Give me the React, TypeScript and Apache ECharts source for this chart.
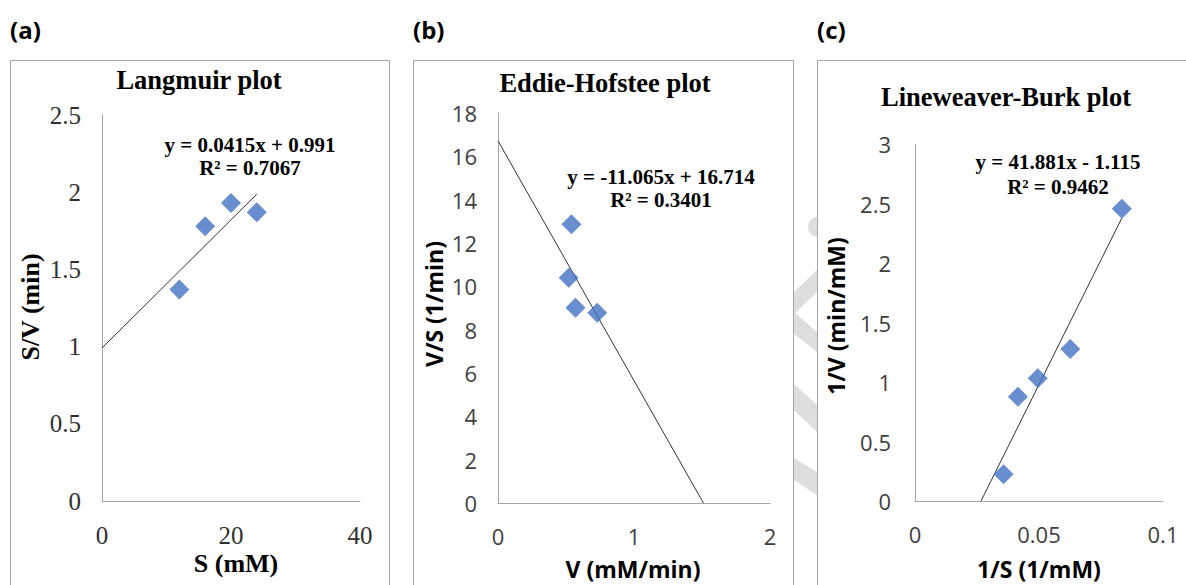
import React, { useEffect, useRef } from "react";
import * as echarts from "echarts";

// ---- Data ----
const panelLetters = ["(a)", "(b)", "(c)"];
const plotTitles = ["Langmuir plot", "Eddie-Hofstee plot", "Lineweaver-Burk plot"];
const xTitles = ["S (mM)", "V (mM/min)", "1/S (1/mM)"];
const yTitles = ["S/V (min)", "V/S (1/min)", "1/V (min/mM)"];
const equations = ["y = 0.0415x + 0.991", "y = -11.065x + 16.714", "y = 41.881x - 1.115"];
const rSquared = ["R² = 0.7067", "R² = 0.3401", "R² = 0.9462"];

// (a) Langmuir
const langmuirS = [12, 16, 20, 24];
const langmuirSV = [1.37, 1.78, 1.93, 1.87];
const langmuirTrend = [[0, 0.991], [24, 1.987]];
// (b) Eadie-Hofstee
const hofsteeV = [0.54, 0.52, 0.57, 0.73];
const hofsteeVS = [12.87, 10.4, 9.01, 8.78];
const hofsteeTrend = [[0, 16.714], [1.5105, 0]];
// (c) Lineweaver-Burk
const lbInvS = [0.0357, 0.0415, 0.0495, 0.0626, 0.0834];
const lbInvV = [0.224, 0.877, 1.032, 1.278, 2.456];
const lbTrend = [[0.02662, 0], [0.0834, 2.378]];

// axis ranges
const xRanges = [
  { min: 0, max: 40, interval: 20 },
  { min: 0, max: 2, interval: 1 },
  { min: 0, max: 0.1, interval: 0.05 },
];
const yRanges = [
  { min: 0, max: 2.5, interval: 0.5 },
  { min: 0, max: 18, interval: 2 },
  { min: 0, max: 3, interval: 0.5 },
];

const SERIF = "'Liberation Serif', 'Times New Roman', serif";
const SANS = "'Open Sans', 'Liberation Sans', sans-serif";
const MARKER = "#4472C4";
const AXIS = "#a6a6a6";
const TREND = "#333333";

export default function App() {
  const ref = useRef<HTMLDivElement>(null);

  useEffect(() => {
    if (!ref.current) return;
    const chart = echarts.init(ref.current, null, { renderer: "svg" });

    const grids = [
      { left: 102, top: 115, width: 258, height: 386 },
      { left: 498, top: 113, width: 272, height: 390 },
      { left: 915, top: 144, width: 248, height: 357 },
    ];
    const tickFonts = [SERIF, SANS, SANS];
    const tickSizes = [25, 22, 22];
    const tickColors = ["#303030", "#404040", "#404040"];
    const yMargins = [21, 21, 24];

    const xAxis = xRanges.map((r, i) => ({
      type: "value",
      gridIndex: i,
      min: r.min,
      max: r.max,
      interval: r.interval,
      axisLine: { show: true, onZero: false, lineStyle: { color: AXIS, width: 1 } },
      axisTick: { show: false },
      splitLine: { show: false },
      axisLabel: {
        margin: 22,
        fontFamily: tickFonts[i],
        fontSize: tickSizes[i],
        color: tickColors[i],
        showMaxLabel: true,
        showMinLabel: true,
      },
    }));
    const yAxis = yRanges.map((r, i) => ({
      type: "value",
      gridIndex: i,
      min: r.min,
      max: r.max,
      interval: r.interval,
      axisLine: { show: true, onZero: false, lineStyle: { color: AXIS, width: 1 } },
      axisTick: { show: false },
      splitLine: { show: false },
      axisLabel: {
        margin: yMargins[i],
        fontFamily: tickFonts[i],
        fontSize: tickSizes[i],
        color: tickColors[i],
        showMaxLabel: true,
        showMinLabel: true,
      },
    }));

    const pts = (xs: number[], ys: number[]) => xs.map((x, k) => [x, ys[k]]);
    const scatter = (i: number, data: number[][]) => ({
      type: "scatter",
      xAxisIndex: i,
      yAxisIndex: i,
      symbol: "diamond",
      symbolSize: 20,
      itemStyle: { color: MARKER },
      data,
      z: 3,
    });
    const trend = (i: number, data: number[][]) => ({
      type: "line",
      xAxisIndex: i,
      yAxisIndex: i,
      data,
      symbol: "none",
      lineStyle: { color: TREND, width: 1 },
      z: 2,
    });

    // watermark strokes in the gap between panels (b) and (c)
    const wmFill = "#dedede";
    const watermark: any[] = [
      { type: "circle", shape: { cx: 818, cy: 227, r: 10 }, style: { fill: wmFill }, z: -20 },
      { type: "polygon", shape: { points: [[817, 270], [817, 292], [794, 314], [794, 292]] }, style: { fill: wmFill }, z: -20 },
      { type: "polygon", shape: { points: [[794, 312], [817, 332], [817, 352], [794, 334]] }, style: { fill: wmFill }, z: -20 },
      { type: "polygon", shape: { points: [[794, 384], [817, 405], [817, 432], [794, 410]] }, style: { fill: wmFill }, z: -20 },
      { type: "polygon", shape: { points: [[794, 458], [817, 472], [817, 495], [794, 480]] }, style: { fill: wmFill }, z: -20 },
    ];

    const panelBoxes = [
      { x: 10.5, w: 379 },
      { x: 413.5, w: 380 },
      { x: 817.5, w: 400 },
    ];
    const boxes = panelBoxes.map((b) => ({
      type: "rect",
      shape: { x: b.x, y: 60.5, width: b.w, height: 600 },
      style: { fill: "#ffffff", stroke: AXIS, lineWidth: 1 },
      z: -10,
    }));

    const letterPos = [10, 413, 817];
    const letters = panelLetters.map((t, i) => ({
      type: "text",
      x: letterPos[i],
      y: 29,
      style: { text: t, font: `bold 24px ${SANS}`, fill: "#000", align: "left", verticalAlign: "middle" },
      z: 5,
    }));

    const titlePos = [[199, 80], [605, 83], [1006, 97]];
    const titles = plotTitles.map((t, i) => ({
      type: "text",
      x: titlePos[i][0],
      y: titlePos[i][1],
      style: { text: t, font: `bold 26.5px ${SERIF}`, fill: "#000", align: "center", verticalAlign: "middle" },
      z: 5,
    }));

    const eqPos = [[250, 145, 168], [661, 177, 200], [1058, 162, 187]];
    const eqTexts: any[] = [];
    equations.forEach((t, i) => {
      eqTexts.push({
        type: "text",
        x: eqPos[i][0],
        y: eqPos[i][1],
        style: { text: t, font: `bold 21px ${SERIF}`, fill: "#000", align: "center", verticalAlign: "middle" },
        z: 5,
      });
      eqTexts.push({
        type: "text",
        x: eqPos[i][0],
        y: eqPos[i][2],
        style: { text: rSquared[i], font: `bold 21px ${SERIF}`, fill: "#000", align: "center", verticalAlign: "middle" },
        z: 5,
      });
    });

    const titleFonts = [`bold 26px ${SERIF}`, `bold 23px ${SANS}`, `bold 23px ${SANS}`];
    const xtPos = [[236, 563], [633, 569], [1039, 569]];
    const xTitleTexts = xTitles.map((t, i) => ({
      type: "text",
      x: xtPos[i][0],
      y: xtPos[i][1],
      style: { text: t, font: titleFonts[i], fill: "#000", align: "center", verticalAlign: "middle" },
      z: 5,
    }));
    const ytPos = [[30, 307], [434, 304], [836, 316]];
    const yTitleTexts = yTitles.map((t, i) => ({
      type: "text",
      x: ytPos[i][0],
      y: ytPos[i][1],
      rotation: Math.PI / 2,
      style: { text: t, font: titleFonts[i], fill: "#000", align: "center", verticalAlign: "middle" },
      z: 5,
    }));

    chart.setOption({
      animation: false,
      backgroundColor: "#ffffff",
      grid: grids,
      xAxis,
      yAxis,
      series: [
        trend(0, langmuirTrend),
        scatter(0, pts(langmuirS, langmuirSV)),
        trend(1, hofsteeTrend),
        scatter(1, pts(hofsteeV, hofsteeVS)),
        trend(2, lbTrend),
        scatter(2, pts(lbInvS, lbInvV)),
      ],
      graphic: {
        elements: [...watermark, ...boxes, ...letters, ...titles, ...eqTexts, ...xTitleTexts, ...yTitleTexts],
      },
    });

    return () => chart.dispose();
  }, []);

  return (
    <div
      ref={ref}
      style={{ position: "fixed", left: 0, top: 0, width: 1186, height: 585 }}
    />
  );
}
